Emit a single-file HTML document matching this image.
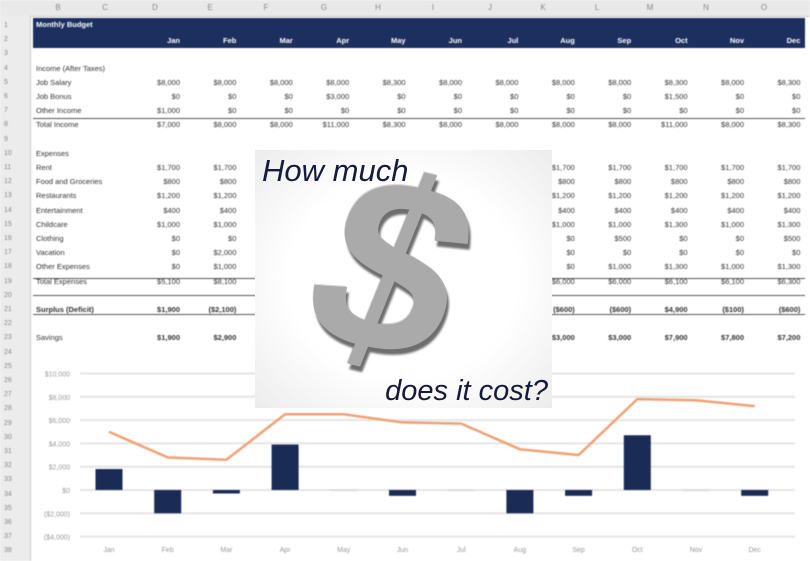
<!DOCTYPE html>
<html><head><meta charset="utf-8"><style>
body{margin:0;width:810px;height:561px;overflow:hidden;background:#fff;font-family:"Liberation Sans",sans-serif;position:relative}
.sheet{position:absolute;left:0;top:0;width:810px;height:561px;filter:blur(0.5px);overflow:hidden}
.colhdr{position:absolute;left:0;top:0;width:810px;height:16px;background:#e9e9e9;border-bottom:1px solid #ccc}
.colhdr span{position:absolute;top:3px;font-size:8px;color:#888;width:20px;text-align:center}
.rowhdr{position:absolute;left:0;top:16px;width:30px;height:545px;background:#ececec;border-right:1px solid #ccc}
.rowhdr span{position:absolute;left:4px;font-size:7px;color:#888}
.band{position:absolute;left:33px;top:18px;width:772px;height:30px;background:#1c2f5e}
.t{position:absolute;font-size:7.5px;color:#333;white-space:nowrap}
.v{position:absolute;font-size:7.5px;color:#333;text-align:right;width:50px;white-space:nowrap}
.line{position:absolute;left:33px;width:772px;height:1px;background:#555}
.overlay{position:absolute;left:255px;top:150px;width:297px;height:258px;background:radial-gradient(ellipse at 50% 50%,#ffffff 55%,#ececec 100%);overflow:hidden}
</style></head><body>
<div class="sheet">
<div class="colhdr" id="colhdr"></div>
<div class="rowhdr" id="rowhdr"></div>
<div class="band"></div>
<div id="cells"></div>
<svg id="chart" width="810" height="561" style="position:absolute;left:0;top:0"></svg>
</div>
<div class="overlay">
<div style="position:absolute;left:7px;top:3px;font-size:31px;font-style:italic;color:#141a3a">How much</div>
<div style="position:absolute;left:68px;top:-8px;font-size:250px;font-weight:bold;color:#a9aaa9;transform:rotate(14deg) skewX(-8deg);text-shadow:4px 5px 2px #6d6e6d,-1px -1px 0 #d8d8d8;line-height:1">$</div>
<div style="position:absolute;right:4px;bottom:0px;font-size:29px;font-style:italic;color:#141a3a">does it cost?</div>
</div>
<script>
const months=["Jan","Feb","Mar","Apr","May","Jun","Jul","Aug","Sep","Oct","Nov","Dec"];
const surplus=[1800,-2000,-300,3900,0,-500,0,-2000,-500,4700,0,-500];
const savings=[5000,2800,2600,6500,6500,5800,5700,3500,3000,7800,7700,7200];
const yTicks=[10000,8000,6000,4000,2000,0,-2000,-4000];
const yTickLabels=["$10,000","$8,000","$6,000","$4,000","$2,000","$0","($2,000)","($4,000)"];
const rows=[
["Income (After Taxes)",4,null],
["Job Salary",5,["$8,000","$8,000","$8,000","$8,000","$8,300","$8,000","$8,000","$8,000","$8,000","$8,300","$8,000","$8,300"]],
["Job Bonus",6,["$0","$0","$0","$3,000","$0","$0","$0","$0","$0","$1,500","$0","$0"]],
["Other Income",7,["$1,000","$0","$0","$0","$0","$0","$0","$0","$0","$0","$0","$0"]],
["Total Income",8,["$7,000","$8,000","$8,000","$11,000","$8,300","$8,000","$8,000","$8,000","$8,000","$11,000","$8,000","$8,300"]],
["Expenses",10,null],
["Rent",11,["$1,700","$1,700","","","","","","$1,700","$1,700","$1,700","$1,700","$1,700"]],
["Food and Groceries",12,["$800","$800","","","","","","$800","$800","$800","$800","$800"]],
["Restaurants",13,["$1,200","$1,200","","","","","","$1,200","$1,200","$1,200","$1,200","$1,200"]],
["Entertainment",14,["$400","$400","","","","","","$400","$400","$400","$400","$400"]],
["Childcare",15,["$1,000","$1,000","","","","","","$1,000","$1,000","$1,300","$1,000","$1,300"]],
["Clothing",16,["$0","$0","","","","","","$0","$500","$0","$0","$500"]],
["Vacation",17,["$0","$2,000","","","","","","$0","$0","$0","$0","$0"]],
["Other Expenses",18,["$0","$1,000","","","","","","$0","$1,000","$1,300","$1,000","$1,300"]],
["Total Expenses",19,["$5,100","$8,100","","","","","","$6,000","$6,000","$6,100","$6,100","$6,300"]],
["Surplus (Deficit)",21,["$1,900","($2,100)","","","","","","($600)","($600)","$4,900","($100)","($600)"]],
["Savings",23,["$1,900","$2,900","","","","","","$3,000","$3,000","$7,900","$7,800","$7,200"]]
];
const rowY=r=>26+(r-1)*14.2;
const colRight=i=>180+i*56.4;
const cells=document.getElementById('cells');
const ch=document.getElementById('colhdr');
const letterX=[58,105,155,210,266,324,378,433,490,543,597,650,706,764];
"BCDEFGHIJKLMNO".split("").forEach((L,i)=>{const s=document.createElement('span');s.textContent=L;s.style.left=(letterX[i]-10)+'px';

ch.appendChild(s);});
const rh=document.getElementById('rowhdr');
for(let r=1;r<=38;r++){const s=document.createElement('span');s.textContent=r;s.style.top=(rowY(r)-16-4)+'px';

rh.appendChild(s);}
function add(cls,txt,x,y,color,bold){const d=document.createElement('div');d.className=cls;d.textContent=txt;d.style.left=x+'px';d.style.top=y+'px';if(color)d.style.color=color;if(bold)d.style.fontWeight='bold';

cells.appendChild(d);return d;}
add('t','Monthly Budget',36,20,'#fff',true);
months.forEach((m,i)=>add('v',m,colRight(i)-50,36,'#fff',true));
rows.forEach(([lab,r,vals])=>{add('t',lab,36,rowY(r)-5,null,r==21);
if(vals)vals.forEach((v,i)=>{if(v)add('v',v,colRight(i)-50,rowY(r)-5,null,r==21||r==23);});});
[[118],[278],[295],[314]].forEach(([y])=>{const l=document.createElement('div');l.className='line';l.style.top=y+'px';

cells.appendChild(l);});
const svg=document.getElementById('chart');const NS="http://www.w3.org/2000/svg";
const y0=490,pxPer=23.3/2000;const yS=v=>y0-v*pxPer;const xS=i=>109+i*58.7;
function el(t,a,name){const e=document.createElementNS(NS,t);for(const k in a)e.setAttribute(k,a[k]);

svg.appendChild(e);return e;}
yTicks.forEach((v,i)=>{el('line',{x1:80,x2:795,y1:yS(v),y2:yS(v),stroke:'#e4e4e4','stroke-width':2},'gridline');
const t=el('text',{x:70,y:yS(v)+3,'font-size':7,fill:'#999','text-anchor':'end'},'y-tick-label');t.textContent=yTickLabels[i];});
months.forEach((m,i)=>{const t=el('text',{x:xS(i),y:552,'font-size':7,fill:'#999','text-anchor':'middle'},'x-tick-label');t.textContent=m;});
surplus.forEach((v,i)=>{const h=Math.abs(v)*pxPer;el('rect',{x:xS(i)-13.5,y:v>=0?yS(v):y0,width:27,height:Math.max(h,1),fill:v==0?'#d0d0d0':'#1a2b55'},'surplus-bar');});
el('polyline',{points:savings.map((v,i)=>xS(i)+','+yS(v)).join(' '),fill:'none',stroke:'#f2a072','stroke-width':2.5},'savings-line');
</script>
</body></html>
